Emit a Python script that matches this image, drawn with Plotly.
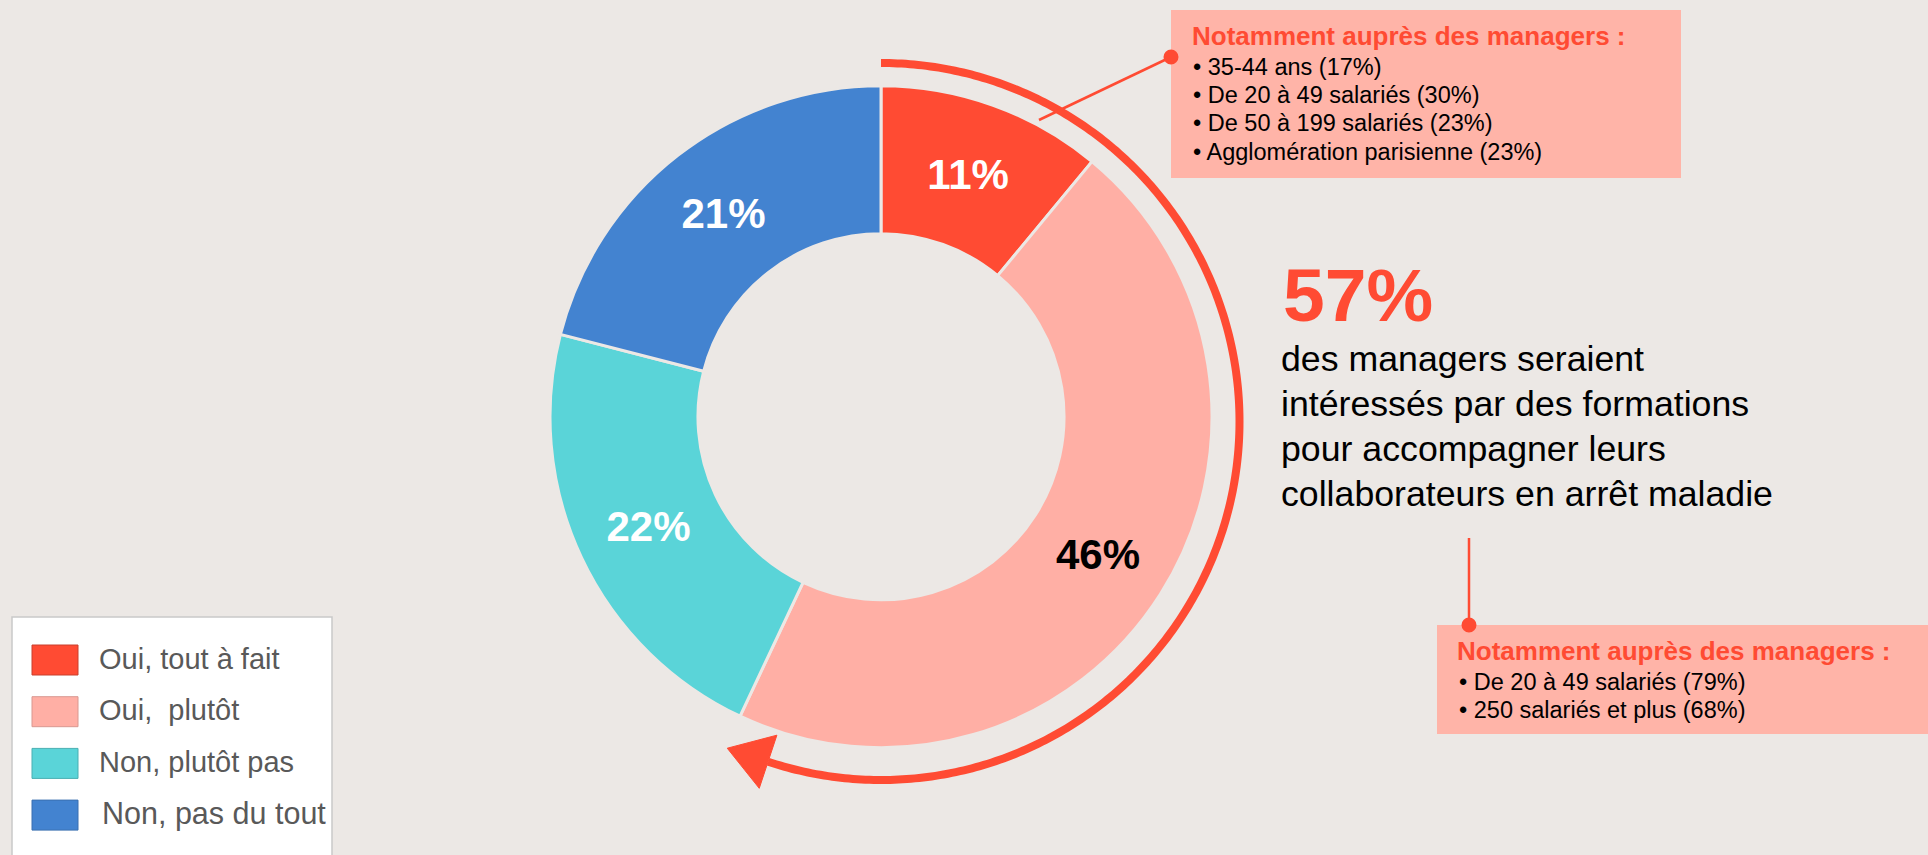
import math
import plotly.graph_objects as go

# ---- data -------------------------------------------------------------
categories = ["Oui, tout à fait", "Oui,\u00a0 plutôt", "Non, plutôt pas", "Non, pas du tout"]
values = [11, 46, 22, 21]
slice_colors = ["#FF4B33", "#FFAFA5", "#5AD4D8", "#4383D0"]
swatch_edges = ["#C8412E", "#D99890", "#4AAFB2", "#3A6FB0"]
label_colors = ["white", "black", "white", "white"]
legend_font_sizes = [29, 29, 29, 30.5]

headline_lines = [
    "des managers seraient",
    "intéressés par des formations",
    "pour accompagner leurs",
    "collaborateurs en arrêt maladie",
]
box_title = "Notamment auprès des managers :"
top_items = [
    "35-44 ans (17%)",
    "De 20 à 49 salariés (30%)",
    "De 50 à 199 salariés (23%)",
    "Agglomération parisienne (23%)",
]
bottom_items = [
    "De 20 à 49 salariés (79%)",
    "250 salariés et plus (68%)",
]

# ---- layout constants (pixel space) ------------------------------------
W, H = 1928, 855
BG = "#ECE8E5"
RED = "#FF4B33"
BOX = "#FFB4A8"
FONT = "Liberation Sans, Arial, sans-serif"

cx, cy, R = 881, 416.7, 331          # donut centre / outer radius
arc_cx, arc_cy, arc_R = 881, 421.5, 358.5
head_len, head_w = 43, 56

fig = go.Figure()

# donut
fig.add_trace(go.Pie(
    labels=categories, values=values, sort=False, direction="clockwise",
    rotation=0, hole=0.553,
    marker=dict(colors=slice_colors, line=dict(color=BG, width=3)),
    texttemplate="%{value}%", textposition="inside",
    insidetextorientation="horizontal",
    textfont=dict(family=FONT, size=42, color=label_colors, weight="bold"),
    domain=dict(x=[(cx - R) / W, (cx + R) / W],
                y=[(H - cy - R) / H, (H - cy + R) / H]),
    showlegend=False, hoverinfo="skip",
))

shapes = []
annotations = []

# curved arrow spanning the "oui" share
yes_share = (values[0] + values[1]) / sum(values)
tip_deg = 360 * yes_share
base_deg = tip_deg - math.degrees(math.atan(head_len / arc_R))
n = 300
pts = []
for i in range(n + 1):
    t = math.radians(base_deg * i / n)
    pts.append((arc_cx + arc_R * math.sin(t), arc_cy - arc_R * math.cos(t)))
arc_path = "M " + " L ".join(f"{x:.2f},{y:.2f}" for x, y in pts)
shapes.append(dict(type="path", xref="x", yref="y", path=arc_path,
                   line=dict(color=RED, width=8), layer="below"))

tb = math.radians(base_deg)
bx, by = arc_cx + arc_R * math.sin(tb), arc_cy - arc_R * math.cos(tb)
tx, ty = math.cos(tb), math.sin(tb)
nx, ny = math.sin(tb), -math.cos(tb)
tip = (bx + head_len * tx, by + head_len * ty)
c1 = (bx + head_w / 2 * nx, by + head_w / 2 * ny)
c2 = (bx - head_w / 2 * nx, by - head_w / 2 * ny)
shapes.append(dict(type="path", xref="x", yref="y",
                   path=f"M {tip[0]:.2f},{tip[1]:.2f} L {c1[0]:.2f},{c1[1]:.2f} "
                        f"L {c2[0]:.2f},{c2[1]:.2f} Z",
                   fillcolor=RED, line=dict(color=RED, width=1), layer="below"))


def text(x, y, s, size, color="black", bold=False, anchor="left"):
    annotations.append(dict(
        x=x, y=y, xref="x", yref="y", text=f"<b>{s}</b>" if bold else s,
        showarrow=False, xanchor=anchor, yanchor="middle",
        font=dict(family=FONT, size=size, color=color),
    ))


# headline
text(1281, 321.7 - 0.35 * 75, f"{values[0] + values[1]}%", 75, RED, bold=True)
for i, line in enumerate(headline_lines):
    text(1279, 371.7 + 45 * i - 0.35 * 35.7, line, 35.7)

# top call-out box
shapes.append(dict(type="rect", xref="x", yref="y", x0=1171, x1=1681, y0=10, y1=178,
                   fillcolor=BOX, line=dict(width=0), layer="below"))
text(1190, 45 - 0.35 * 26, box_title, 26, RED, bold=True)
for i, item in enumerate(top_items):
    text(1191, 75 + 28.3 * i - 0.35 * 23.5, "• " + item, 23.5)
shapes.append(dict(type="line", xref="x", yref="y", x0=1039, y0=120, x1=1171, y1=57,
                   line=dict(color=RED, width=2.5)))
shapes.append(dict(type="circle", xref="x", yref="y", x0=1163.5, x1=1178.5, y0=49.5, y1=64.5,
                   fillcolor=RED, line=dict(width=0)))

# bottom call-out box
shapes.append(dict(type="rect", xref="x", yref="y", x0=1437, x1=1928, y0=625, y1=734,
                   fillcolor=BOX, line=dict(width=0), layer="below"))
text(1455, 660 - 0.35 * 26, box_title, 26, RED, bold=True)
for i, item in enumerate(bottom_items):
    text(1457, 690 + 28.3 * i - 0.35 * 23.5, "• " + item, 23.5)
shapes.append(dict(type="line", xref="x", yref="y", x0=1469, y0=538, x1=1469, y1=625,
                   line=dict(color=RED, width=2.5)))
shapes.append(dict(type="circle", xref="x", yref="y", x0=1461.5, x1=1476.5, y0=617.5, y1=632.5,
                   fillcolor=RED, line=dict(width=0)))

# legend panel
shapes.append(dict(type="rect", xref="x", yref="y", x0=12, x1=332, y0=617, y1=880,
                   fillcolor="white", line=dict(color="#C9C9C9", width=1.5), layer="below"))
for i, (cat, col, edge, fs) in enumerate(zip(categories, slice_colors, swatch_edges,
                                              legend_font_sizes)):
    yc = 660 + 51.7 * i
    shapes.append(dict(type="rect", xref="x", yref="y", x0=32, x1=78, y0=yc - 15, y1=yc + 15,
                       fillcolor=col, line=dict(color=edge, width=1)))
    text(97 if i < 3 else 100, yc - 1.5, cat, fs, "#595959")

fig.update_layout(
    width=W, height=H, margin=dict(l=0, r=0, t=0, b=0),
    paper_bgcolor=BG, plot_bgcolor=BG,
    xaxis=dict(range=[0, W], visible=False, fixedrange=True),
    yaxis=dict(range=[H, 0], visible=False, fixedrange=True),
    uniformtext=dict(minsize=42, mode="show"),
    shapes=shapes, annotations=annotations,
)

fig.write_html("out.html")
